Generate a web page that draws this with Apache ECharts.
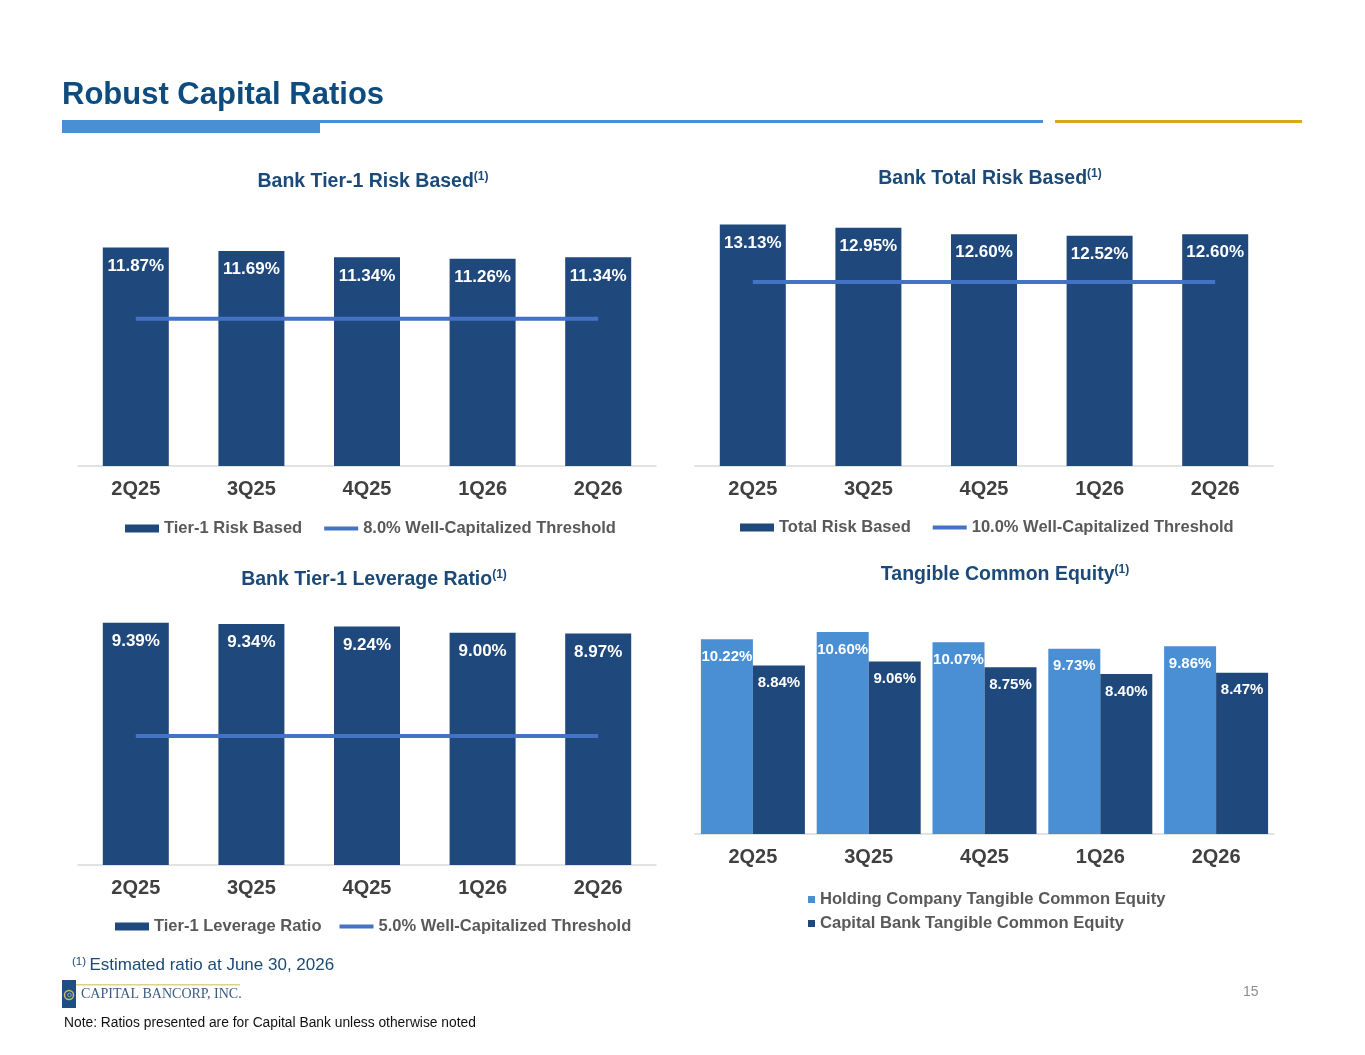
<!DOCTYPE html>
<html>
<head>
<meta charset="utf-8">
<title>Robust Capital Ratios</title>
<script src="https://cdn.jsdelivr.net/npm/echarts@6/dist/echarts.min.js"></script>
<style>
  html, body { margin: 0; padding: 0; background: #fff; }
  #main { width: 1365px; height: 1055px; }
</style>
</head>
<body>
<div id="main"></div>
<script>
// data
var quarters = ['2Q25', '3Q25', '4Q25', '1Q26', '2Q26'];
var tier1Risk = [11.87, 11.69, 11.34, 11.26, 11.34];
var totalRisk = [13.13, 12.95, 12.60, 12.52, 12.60];
var tier1Leverage = [9.39, 9.34, 9.24, 9.00, 8.97];
var holdingTce = [10.22, 10.60, 10.07, 9.73, 9.86];
var bankTce = [8.84, 9.06, 8.75, 8.40, 8.47];
var tier1Threshold = [8.0, 8.0, 8.0, 8.0, 8.0];
var totalThreshold = [10.0, 10.0, 10.0, 10.0, 10.0];
var leverageThreshold = [5.0, 5.0, 5.0, 5.0, 5.0];

var DARK = '#1f487c';
var LIGHT = '#4a8ed3';
var LINE = '#4472c4';
var FONT = 'Liberation Sans, Arial, sans-serif';
var LINE_ICON = 'path://M0,0L36,0L36,4L0,4Z';

var myChart = echarts.init(document.getElementById('main'));

function pct(p) { return p.value.toFixed(2) + '%'; }

function xAxisFor(i) {
    return {
        type: 'category', gridIndex: i, data: quarters,
        axisLine: { lineStyle: { color: '#d9d9d9', width: 1.5 } },
        axisTick: { show: false },
        axisLabel: { color: '#404040', fontSize: 20, fontWeight: 'bold', fontFamily: FONT, margin: 13 }
    };
}
function yAxisFor(i, max) {
    return { type: 'value', gridIndex: i, min: 0, max: max, show: false, splitLine: { show: false } };
}
function barLabel(size, dist) {
    return {
        show: true, position: 'insideTop', distance: dist, color: '#fff',
        fontSize: size, fontWeight: 'bold', fontFamily: FONT, formatter: pct
    };
}
function chartTitle(text, x, y) {
    return {
        text: '{t|' + text + '}{s|(1)}',
        left: x, top: y, textAlign: 'center',
        textStyle: {
            rich: {
                t: { fontSize: 19.5, fontWeight: 'bold', color: '#1b4a78', fontFamily: FONT },
                s: { fontSize: 12, fontWeight: 'bold', color: '#1b4a78', fontFamily: FONT, verticalAlign: 'top', padding: [0, 0, 9, 0] }
            }
        }
    };
}
var legendText = { color: '#595959', fontSize: 16.5, fontWeight: 'bold', fontFamily: FONT };

option = {
    backgroundColor: '#fff',
    animation: false,
    title: [
        {
            text: 'Robust Capital Ratios', left: 57, top: 75,
            textStyle: { fontSize: 31, fontWeight: 'bold', color: '#0e4c80', fontFamily: FONT }
        },
        chartTitle('Bank Tier-1 Risk Based', 368, 166),
        chartTitle('Bank Total Risk Based', 985, 163),
        chartTitle('Bank Tier-1 Leverage Ratio', 369, 564),
        chartTitle('Tangible Common Equity', 1000, 559)
    ],
    grid: [
        { left: 78, width: 578, top: 466 - 14 * 18.4, height: 14 * 18.4 },
        { left: 695, width: 578, top: 466 - 14 * 18.4, height: 14 * 18.4 },
        { left: 78, width: 578, top: 865 - 10 * 25.8, height: 10 * 25.8 },
        { left: 695, width: 579, top: 834 - 11 * 19.05, height: 11 * 19.05 }
    ],
    xAxis: [xAxisFor(0), xAxisFor(1), xAxisFor(2), xAxisFor(3)],
    yAxis: [yAxisFor(0, 14), yAxisFor(1, 14), yAxisFor(2, 10), yAxisFor(3, 11)],
    legend: [
        {
            left: 120, top: 515, itemWidth: 34, itemHeight: 8, itemGap: 22, symbolKeepAspect: true, textStyle: legendText,
            data: [{ name: 'Tier-1 Risk Based', icon: 'rect' }, { name: '8.0% Well-Capitalized Threshold', icon: LINE_ICON }]
        },
        {
            left: 735, top: 514, itemWidth: 34, itemHeight: 8, itemGap: 22, symbolKeepAspect: true, textStyle: legendText,
            data: [{ name: 'Total Risk Based', icon: 'rect' }, { name: '10.0% Well-Capitalized Threshold', icon: LINE_ICON }]
        },
        {
            left: 110, top: 913, itemWidth: 34, itemHeight: 8, itemGap: 18, symbolKeepAspect: true, textStyle: legendText,
            data: [{ name: 'Tier-1 Leverage Ratio', icon: 'rect' }, { name: '5.0% Well-Capitalized Threshold', icon: LINE_ICON }]
        },
        {
            left: 803, top: 886, orient: 'vertical', icon: 'rect', itemWidth: 7, itemHeight: 7, itemGap: 7,
            textStyle: { color: '#595959', fontSize: 16.6, fontWeight: 'bold', fontFamily: FONT },
            data: ['Holding Company Tangible Common Equity', 'Capital Bank Tangible Common Equity']
        }
    ],
    series: [
        {
            name: 'Tier-1 Risk Based', type: 'bar', xAxisIndex: 0, yAxisIndex: 0,
            data: tier1Risk, barWidth: 66, itemStyle: { color: DARK }, label: barLabel(17, 10)
        },
        {
            name: '8.0% Well-Capitalized Threshold', type: 'line', xAxisIndex: 0, yAxisIndex: 0,
            data: tier1Threshold, symbol: 'none', z: 3, lineStyle: { color: LINE, width: 4 }, itemStyle: { color: LINE }
        },
        {
            name: 'Total Risk Based', type: 'bar', xAxisIndex: 1, yAxisIndex: 1,
            data: totalRisk, barWidth: 66, itemStyle: { color: DARK }, label: barLabel(17, 10)
        },
        {
            name: '10.0% Well-Capitalized Threshold', type: 'line', xAxisIndex: 1, yAxisIndex: 1,
            data: totalThreshold, symbol: 'none', z: 3, lineStyle: { color: LINE, width: 4 }, itemStyle: { color: LINE }
        },
        {
            name: 'Tier-1 Leverage Ratio', type: 'bar', xAxisIndex: 2, yAxisIndex: 2,
            data: tier1Leverage, barWidth: 66, itemStyle: { color: DARK }, label: barLabel(17, 10)
        },
        {
            name: '5.0% Well-Capitalized Threshold', type: 'line', xAxisIndex: 2, yAxisIndex: 2,
            data: leverageThreshold, symbol: 'none', z: 3, lineStyle: { color: LINE, width: 4 }, itemStyle: { color: LINE }
        },
        {
            name: 'Holding Company Tangible Common Equity', type: 'bar', xAxisIndex: 3, yAxisIndex: 3,
            data: holdingTce, barWidth: 52, barGap: '0%', itemStyle: { color: LIGHT }, label: barLabel(15, 10)
        },
        {
            name: 'Capital Bank Tangible Common Equity', type: 'bar', xAxisIndex: 3, yAxisIndex: 3,
            data: bankTce, barWidth: 52, barGap: '0%', itemStyle: { color: DARK }, label: barLabel(15, 10)
        }
    ],
    graphic: [
        // header rules
        { type: 'rect', shape: { x: 62, y: 120, width: 258, height: 13 }, style: { fill: '#4a8ed3' } },
        { type: 'rect', shape: { x: 320, y: 120, width: 723, height: 3 }, style: { fill: '#4a8ed3' } },
        { type: 'rect', shape: { x: 1055, y: 120, width: 247, height: 3 }, style: { fill: '#d8a817' } },
        // footnote
        {
            type: 'text', left: 72, top: 956,
            style: {
                text: '{s|(1)} {t|Estimated ratio at June 30, 2026}',
                rich: {
                    s: { fontSize: 11.5, fill: '#1b4a78', fontFamily: FONT, verticalAlign: 'top', padding: [0, 0, 7, 0] },
                    t: { fontSize: 17, fill: '#1b4a78', fontFamily: FONT }
                }
            }
        },
        // logo
        { type: 'rect', shape: { x: 62, y: 980, width: 14, height: 28 }, style: { fill: '#1f4e86' } },
        { type: 'circle', shape: { cx: 69, cy: 995, r: 4.5 }, style: { fill: 'none', stroke: '#c9b86a', lineWidth: 1.5 } },
        { type: 'circle', shape: { cx: 69.5, cy: 995, r: 1.8 }, style: { fill: 'none', stroke: '#8fb0a0', lineWidth: 1 } },
        { type: 'rect', shape: { x: 76, y: 984, width: 164, height: 1.5 }, style: { fill: '#ddd28a' } },
        {
            type: 'text', left: 81, top: 987,
            style: { text: 'CAPITAL BANCORP, INC.', fontSize: 14, fill: '#3b5b86', fontFamily: 'Liberation Serif, Times New Roman, serif' }
        },
        {
            type: 'text', left: 64, top: 1016,
            style: { text: 'Note: Ratios presented are for Capital Bank unless otherwise noted', fontSize: 13.8, fill: '#111', fontFamily: FONT }
        },
        {
            type: 'text', left: 1243, top: 985,
            style: { text: '15', fontSize: 14, fill: '#8c8c8c', fontFamily: FONT }
        }
    ]
};

myChart.setOption(option);
</script>
</body>
</html>
